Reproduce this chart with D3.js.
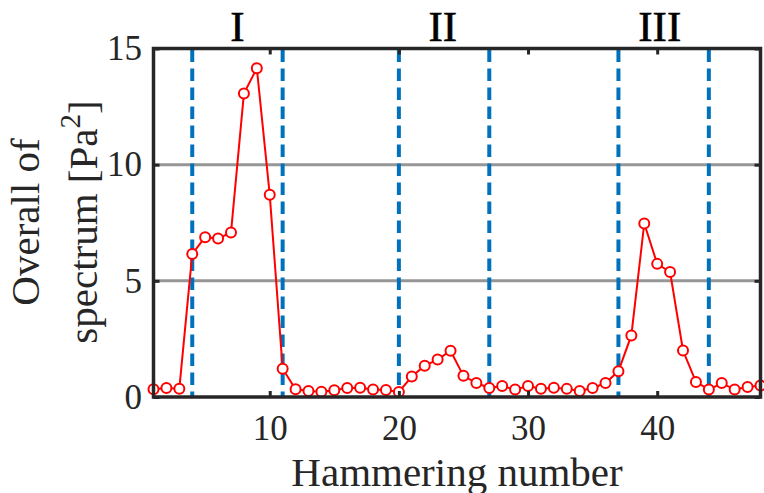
<!DOCTYPE html>
<html>
<head>
<meta charset="utf-8">
<script src="https://cdn.jsdelivr.net/npm/d3@7"></script>
<style>
  html, body { margin: 0; padding: 0; background: #fff; }
  svg { display: block; }
  text { font-family: "Liberation Serif", "Times New Roman", serif; fill: #262626; }
</style>
</head>
<body>
<svg id="chart" width="764" height="493"></svg>
<script>
// Overall spectrum value for each hammering
const hammering = d3.range(1, 49);
const overall = [
  0.33, 0.39, 0.36, 6.16, 6.88, 6.82, 7.08, 13.06, 14.15, 8.71,
  1.22, 0.33, 0.26, 0.23, 0.29, 0.39, 0.40, 0.32, 0.30, 0.22,
  0.88, 1.35, 1.61, 1.99, 0.91, 0.60, 0.39, 0.47, 0.32, 0.47,
  0.36, 0.40, 0.35, 0.26, 0.39, 0.60, 1.11, 2.65, 7.47, 5.73,
  5.38, 2.00, 0.65, 0.32, 0.60, 0.32, 0.43, 0.49
];
// Stage boundaries (vertical dashed lines) and stage names
const boundaries = [4, 11, 20, 27, 37, 44];
const stageNames = ["I", "II", "III"];
const stageCenters = [7.5, 23.4, 40.2];
// Axis ticks
const xTicks = [10, 20, 30, 40];
const yTicks = [0, 5, 10, 15];
const gridValues = [5, 10];

const svg = d3.select("#chart");
const plotL = 153.5, plotR = 760.5, plotT = 48.5, plotB = 397;

const x = d3.scaleLinear().domain([1, 48]).range([plotL, plotR]);
const y = d3.scaleLinear().domain([0, 15]).range([plotB, plotT]);

const axisColor = "#262626";

// Horizontal reference lines
svg.append("g").selectAll("line").data(gridValues).join("line")
  .attr("x1", plotL).attr("x2", plotR)
  .attr("y1", d => y(d)).attr("y2", d => y(d))
  .attr("stroke", "#969696").attr("stroke-width", 3);

// Stage boundaries
svg.append("g").selectAll("line").data(boundaries).join("line")
  .attr("x1", d => x(d)).attr("x2", d => x(d))
  .attr("y1", plotT + 1).attr("y2", plotB)
  .attr("stroke", "#0072BD").attr("stroke-width", 4)
  .attr("stroke-dasharray", "12.5,6.5");

// Data line with circle markers
const line = d3.line().x((d, i) => x(hammering[i])).y(d => y(d));
svg.append("path").datum(overall)
  .attr("d", line)
  .attr("fill", "none").attr("stroke", "#ff0000").attr("stroke-width", 2);

svg.append("g").selectAll("circle").data(overall).join("circle")
  .attr("cx", (d, i) => x(hammering[i])).attr("cy", d => y(d))
  .attr("r", 5)
  .attr("fill", "#fff").attr("stroke", "#ff0000").attr("stroke-width", 2);

// Axes: bottom/left with labels, top/right as mirror ticks
const tickLen = 6;
const xAxisB = d3.axisBottom(x).tickValues(xTicks).tickSize(-tickLen).tickPadding(18).tickFormat(d3.format("d"));
const xAxisT = d3.axisTop(x).tickValues(xTicks).tickSize(-tickLen).tickFormat("");
const yAxisL = d3.axisLeft(y).tickValues(yTicks).tickSize(-tickLen).tickPadding(11.5).tickFormat(d3.format("d"));
const yAxisR = d3.axisRight(y).tickValues(yTicks).tickSize(-tickLen).tickFormat("");

function styleAxis(g) {
  g.select(".domain").remove();
  g.selectAll(".tick line").attr("stroke", axisColor).attr("stroke-width", 3);
  g.selectAll(".tick text").attr("fill", axisColor).style("font-size", "35px")
    .style("font-family", "'Liberation Serif', 'Times New Roman', serif");
}

svg.append("g").attr("transform", `translate(0,${plotB})`).call(xAxisB).call(styleAxis)
  .selectAll(".tick text").attr("dy", "0.71em");
svg.append("g").attr("transform", `translate(0,${plotT})`).call(xAxisT).call(styleAxis);
svg.append("g").attr("transform", `translate(${plotL},0)`).call(yAxisL).call(styleAxis);
svg.append("g").attr("transform", `translate(${plotR},0)`).call(yAxisR).call(styleAxis);

// Frame
svg.append("rect")
  .attr("x", plotL).attr("y", plotT)
  .attr("width", plotR - plotL).attr("height", plotB - plotT)
  .attr("fill", "none").attr("stroke", axisColor).attr("stroke-width", 3.5);

// Stage names above the frame
svg.append("g").selectAll("text").data(stageNames).join("text")
  .attr("x", (d, i) => x(stageCenters[i])).attr("y", 40.5)
  .attr("text-anchor", "middle")
  .style("font-size", "43px")
  .style("fill", "#000")
  .style("stroke", "#000").style("stroke-width", 0.6)
  .text(d => d);

// Axis titles
svg.append("text")
  .attr("x", (plotL + plotR) / 2).attr("y", 486)
  .attr("text-anchor", "middle")
  .style("font-size", "41px")
  .text("Hammering number");

const yTitle = svg.append("text")
  .attr("transform", `translate(0,222) rotate(-90)`)
  .attr("text-anchor", "middle")
  .style("font-size", "41px");
yTitle.append("tspan").attr("x", 0).attr("y", 38.5).text("Overall of");
const l2 = yTitle.append("tspan").attr("x", 0).attr("y", 96.5);
l2.append("tspan").text("spectrum [Pa");
l2.append("tspan").attr("dy", -17).style("font-size", "29px").text("2");
l2.append("tspan").attr("dy", 17).text("]");
</script>
</body>
</html>
